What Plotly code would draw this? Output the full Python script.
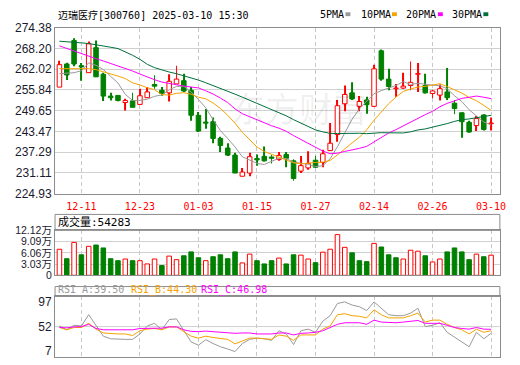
import plotly.graph_objects as go

# ---------------- data ----------------
dates = ["12-06", "12-09", "12-10", "12-11", "12-12", "12-13", "12-16", "12-17", "12-18", "12-19",
         "12-20", "12-23", "12-24", "12-25", "12-26", "12-27", "12-30", "12-31", "01-02", "01-03",
         "01-06", "01-07", "01-08", "01-09", "01-10", "01-13", "01-14", "01-15", "01-16", "01-17",
         "01-20", "01-21", "01-22", "01-23", "01-24", "01-27", "02-05", "02-06", "02-07", "02-10",
         "02-11", "02-12", "02-13", "02-14", "02-17", "02-18", "02-19", "02-20", "02-21", "02-24",
         "02-25", "02-26", "02-27", "02-28", "03-03", "03-04", "03-05", "03-06", "03-07", "03-10"]

opens = [256.70, 263.59, 270.58, 263.11, 261.01, 268.47, 260.53, 254.02, 254.21, 252.11,
         252.59, 251.53, 253.54, 257.47, 255.75, 254.98, 257.66, 258.62, 255.75, 248.28,
         246.25, 246.37, 241.39, 238.52, 236.41, 230.10, 231.05, 235.36, 236.03, 235.84,
         235.07, 236.61, 234.69, 231.63, 232.59, 234.88, 234.21, 237.75, 242.54, 251.73,
         254.98, 250.96, 252.87, 250.96, 267.52, 259.09, 256.22, 256.41, 257.18, 260.53,
         257.18, 254.79, 254.31, 255.27, 251.92, 249.05, 246.18, 245.22, 248.38, 245.79]
highs = [264.55, 263.97, 271.25, 263.88, 270.29, 270.58, 261.01, 254.98, 254.21, 253.26,
         254.98, 256.22, 256.70, 260.24, 256.70, 260.53, 263.11, 260.72, 256.70, 249.24,
         250.19, 247.61, 241.87, 239.95, 237.08, 232.59, 237.08, 236.61, 239.00, 236.41,
         237.37, 237.37, 235.17, 236.12, 237.56, 236.12, 238.04, 246.00, 252.87, 257.18,
         258.14, 254.02, 253.83, 263.40, 267.90, 262.16, 257.66, 261.01, 264.36, 263.88,
         260.72, 255.94, 257.47, 262.44, 252.87, 249.05, 246.65, 248.09, 248.57, 247.61]
lows = [256.70, 258.81, 262.92, 258.62, 261.01, 259.76, 252.59, 252.68, 252.49, 249.72,
        250.67, 251.53, 253.54, 256.22, 254.12, 252.40, 257.66, 255.27, 246.65, 243.30,
        244.26, 239.95, 237.37, 236.12, 231.05, 230.10, 230.10, 233.26, 234.50, 233.93,
        234.69, 232.78, 228.76, 231.05, 232.01, 232.59, 232.78, 237.75, 240.43, 249.52,
        252.87, 249.52, 248.76, 250.77, 258.62, 255.75, 253.83, 256.22, 255.75, 255.27,
        254.79, 253.35, 252.68, 252.87, 248.57, 241.58, 243.11, 243.59, 243.78, 243.78]
closes = [263.40, 260.34, 263.59, 262.73, 269.62, 259.76, 254.02, 253.54, 252.68, 252.68,
          250.67, 254.12, 255.27, 256.99, 254.79, 258.43, 259.09, 255.55, 248.28, 243.59,
          245.95, 241.39, 239.29, 236.41, 231.05, 231.34, 235.93, 234.98, 234.69, 235.46,
          236.32, 235.46, 229.43, 233.26, 233.93, 232.78, 236.80, 239.95, 251.15, 254.50,
          253.16, 252.40, 251.44, 262.16, 259.09, 256.89, 256.41, 256.99, 258.14, 260.72,
          254.98, 255.55, 256.22, 253.54, 250.29, 246.37, 243.30, 247.32, 244.07, 245.98]

volumes = [70300, 44800, 88700, 55300, 78200, 81700, 73800, 44800, 39500, 43900,
           39500, 39500, 30700, 43900, 26300, 51800, 42200, 52700, 63200, 47400,
           39500, 50100, 55300, 44800, 63200, 33400, 57100, 39500, 30700, 39500,
           46500, 30700, 55300, 54400, 43900, 34200, 62400, 70300, 109800, 75500,
           60600, 39500, 36900, 86100, 76400, 55300, 47400, 43900, 67600, 65000,
           52700, 36000, 43900, 63200, 73800, 63200, 42200, 57100, 50100, 54283]
# 1 = red (up) volume bar, 0 = green
vol_up = [1, 0, 1, 0, 1, 0, 0, 0, 0, 1,
          0, 1, 1, 1, 0, 1, 1, 0, 0, 0,
          1, 0, 0, 0, 0, 1, 1, 0, 0, 0,
          1, 0, 0, 1, 1, 0, 1, 1, 1, 1,
          0, 0, 0, 1, 0, 0, 0, 1, 1, 1,
          0, 1, 1, 0, 0, 0, 0, 1, 0, 1]

ma5 = [260.7, 260.8, 261.0, 261.6, 263.94, 263.21, 261.94, 259.93, 257.92, 254.54,
       252.72, 252.74, 253.08, 253.95, 254.37, 255.92, 256.91, 256.97, 255.23, 252.99,
       250.52, 246.98, 243.73, 241.36, 238.85, 235.90, 234.80, 233.94, 233.60, 234.48,
       235.48, 235.38, 234.27, 233.99, 233.68, 232.97, 233.24, 235.34, 238.92, 243.04,
       247.11, 250.23, 252.53, 254.73, 255.65, 256.40, 257.20, 258.31, 257.50, 257.83,
       257.45, 257.28, 257.12, 256.20, 254.12, 252.39, 249.94, 248.16, 246.27, 245.41]
ma10 = [262.2, 262.2, 262.2, 262.2, 262.2, 261.9, 261.3, 260.6, 260.0, 259.24,
        257.96, 257.34, 256.51, 255.94, 254.45, 254.32, 254.83, 255.03, 254.59, 253.68,
        253.22, 251.95, 250.35, 248.29, 245.92, 243.21, 240.89, 238.84, 237.48, 236.66,
        235.69, 235.09, 234.11, 233.79, 234.08, 234.22, 234.31, 234.81, 236.45, 238.36,
        240.04, 241.74, 243.94, 246.83, 249.34, 251.75, 253.72, 255.42, 256.12, 256.74,
        256.92, 257.24, 257.72, 256.85, 255.97, 254.92, 253.61, 252.64, 251.24, 249.76]
ma20 = [269.0, 268.2, 267.4, 266.6, 265.8, 265.2, 264.5, 263.8, 263.0, 262.3,
        261.5, 260.6, 259.7, 258.9, 258.2, 257.7, 257.4, 257.0, 256.8, 256.46,
        255.59, 254.64, 253.43, 252.11, 250.19, 248.76, 247.86, 246.93, 246.03, 245.17,
        244.45, 243.52, 242.23, 241.04, 240.00, 238.72, 237.60, 236.82, 236.97, 237.51,
        237.86, 238.41, 239.02, 240.31, 241.71, 242.99, 244.01, 245.11, 246.29, 247.55,
        248.48, 249.49, 250.83, 251.84, 252.66, 253.34, 253.66, 254.03, 253.68, 253.25]
ma30 = [270.4, 270.3, 270.1, 269.9, 269.7, 269.4, 269.0, 268.6, 268.2, 267.3,
        266.2, 265.0, 263.5, 262.5, 261.8, 261.2, 260.7, 260.1, 259.5, 258.8,
        258.0, 257.2, 256.3, 255.5, 254.6, 253.7, 252.8, 251.9, 250.9, 249.86,
        248.96, 248.13, 246.99, 246.01, 244.82, 243.92, 243.34, 242.89, 242.84, 242.90,
        242.98, 242.93, 242.80, 242.97, 243.11, 243.06, 242.97, 243.02, 243.35, 243.92,
        244.22, 244.69, 245.25, 245.82, 246.47, 246.97, 247.21, 247.62, 247.94, 248.29]

rsi_a = [53.2, 46.1, 54.4, 53.2, 73.9, 53.2, 34.3, 29.5, 28.4, 28.4,
         28.4, 38.4, 53.2, 58.0, 46.1, 65.0, 66.2, 44.3, 23.6, 17.7,
         27.8, 20.7, 14.8, 10.6, 5.9, 20.7, 28.4, 30.7, 29.5, 26.6,
         44.3, 38.4, 18.9, 44.3, 47.3, 41.4, 62.1, 72.1, 94.6, 97.6,
         91.7, 88.7, 81.6, 97.6, 85.8, 73.9, 72.1, 72.1, 76.9, 85.8,
         52.0, 54.4, 59.1, 41.4, 32.5, 23.6, 14.8, 41.4, 29.5, 39.50]
rsi_b = [50.3, 46.1, 50.3, 50.3, 58.0, 47.3, 40.2, 39.0, 38.4, 38.4,
         35.5, 44.3, 47.3, 48.5, 46.1, 51.4, 51.4, 42.6, 34.3, 30.7,
         34.3, 31.9, 30.7, 28.4, 20.1, 26.0, 30.7, 30.7, 29.5, 28.4,
         36.6, 34.3, 26.6, 36.6, 36.6, 36.6, 47.3, 53.2, 73.9, 75.7,
         72.1, 71.0, 68.0, 82.8, 73.9, 68.0, 68.0, 68.0, 72.1, 76.9,
         60.3, 63.9, 63.9, 56.2, 50.3, 46.1, 38.4, 47.3, 41.4, 44.30]
rsi_c = [50.3, 49.7, 51.4, 52.0, 56.2, 48.5, 46.1, 46.1, 46.1, 46.1,
         46.1, 48.5, 49.1, 49.7, 49.1, 51.4, 51.4, 46.1, 43.2, 42.6,
         43.7, 42.6, 41.4, 40.8, 39.6, 40.2, 40.2, 38.4, 38.4, 38.4,
         40.2, 40.2, 36.6, 39.6, 40.2, 41.4, 44.3, 50.3, 56.2, 59.1,
         59.1, 59.1, 56.2, 63.9, 60.3, 59.1, 59.1, 60.3, 61.5, 63.3,
         58.0, 58.0, 58.0, 54.4, 50.3, 48.5, 47.3, 50.3, 47.3, 46.98]

price_ticks = [274.38, 268.20, 262.02, 255.84, 249.65, 243.47, 237.29, 231.11, 224.93]
vol_ticks = [0, 30300, 60600, 90900, 121200]
vol_tick_text = ["0", "3.03万", "6.06万", "9.09万", "12.12万"]
rsi_ticks = [7, 52, 97]
date_tick_idx = [3, 11, 19, 27, 35, 43, 51, 59]
title_text = "迈瑞医疗[300760] 2025-03-10 15:30"

# ---------------- layout helpers ----------------
W, H = 520, 365


def fx(v):
    return v / W


def fy(v):
    return 1 - v / H


L, R = 55.7, 505.7
MAIN_TOP, MAIN_BOT = 21.7, 194.0
VOL_HDR, VOL_TOP, VOL_BOT = 215.7, 232.3, 279.0
RSI_HDR, RSI_TOP, RSI_BOT = 290.7, 301.0, 364.0

RED = "#ff0000"
GREEN = "#008000"
C5, C10, C20, C30 = "#999999", "#f5a300", "#ff00ff", "#00703c"
BORDER = "#8c8c8c"
GRID = "#d0d0d0"
VGRID = "#c8c8c8"
LABEL = "#1a1a2e"
MONO = "DejaVu Sans Mono, Noto Sans CJK SC"
SANS = "Liberation Sans, Noto Sans CJK SC"

x = list(range(len(dates)))
is_up = [c > o for o, c in zip(opens, closes)]

fig = go.Figure()

# wicks
fig.add_trace(go.Bar(
    x=x, base=lows, y=[h - l for h, l in zip(highs, lows)], width=0.12,
    marker=dict(color=[RED if u else GREEN for u in is_up], line=dict(width=0)),
    xaxis="x", yaxis="y", hoverinfo="skip"))
# bodies
fig.add_trace(go.Bar(
    x=x, base=[min(o, c) for o, c in zip(opens, closes)],
    y=[max(abs(c - o), 0.12) for o, c in zip(opens, closes)], width=0.62,
    marker=dict(color=["#ffffff" if u else GREEN for u in is_up],
                line=dict(color=[RED if u else GREEN for u in is_up], width=1)),
    xaxis="x", yaxis="y", hoverinfo="skip"))

for vals, col in [(ma5, C5), (ma10, C10), (ma20, C20), (ma30, C30)]:
    fig.add_trace(go.Scatter(x=x, y=vals, mode="lines", line=dict(color=col, width=1),
                             xaxis="x", yaxis="y", hoverinfo="skip"))

# volume
fig.add_trace(go.Bar(
    x=x, y=volumes, width=0.62,
    marker=dict(color=["#ffffff" if u else GREEN for u in vol_up],
                line=dict(color=[RED if u else GREEN for u in vol_up], width=1)),
    xaxis="x2", yaxis="y2", hoverinfo="skip"))

# RSI
for vals, col in [(rsi_a, C5), (rsi_b, C10), (rsi_c, C20)]:
    fig.add_trace(go.Scatter(x=x, y=vals, mode="lines", line=dict(color=col, width=1),
                             xaxis="x3", yaxis="y3", hoverinfo="skip"))

xr = [-0.6, 60.2]
xcommon = dict(domain=[fx(L), fx(R)], range=xr, tickvals=date_tick_idx,
               showgrid=True, gridcolor=VGRID, griddash="4px,3px", gridwidth=1,
               showline=True, mirror=True, linecolor=BORDER, linewidth=1,
               zeroline=False, fixedrange=True)

fig.update_layout(
    width=W, height=H, margin=dict(l=0, r=0, t=0, b=0),
    paper_bgcolor="#ffffff", plot_bgcolor="#ffffff",
    showlegend=False, barmode="overlay",
    xaxis=dict(**xcommon, anchor="y", ticktext=[dates[i] for i in date_tick_idx],
               tickfont=dict(family=MONO, size=10, color=RED),
               ticks="outside", ticklen=3, tickcolor="rgba(0,0,0,0)"),
    xaxis2=dict(**xcommon, anchor="y2", showticklabels=False),
    xaxis3=dict(**xcommon, anchor="y3", showticklabels=False),
    yaxis=dict(domain=[fy(MAIN_BOT), fy(MAIN_TOP)], range=[224.93, 274.38],
               tickvals=price_ticks, ticktext=["%.2f" % v for v in price_ticks],
               tickfont=dict(family=SANS, size=12, color=LABEL),
               showgrid=True, gridcolor=GRID, gridwidth=1,
               showline=True, mirror=True, linecolor=BORDER, linewidth=1,
               zeroline=False, fixedrange=True),
    yaxis2=dict(domain=[fy(VOL_BOT), fy(VOL_TOP)], range=[0, 121200],
                tickvals=vol_ticks, ticktext=vol_tick_text,
                tickfont=dict(family=SANS, size=10.5, color=LABEL),
                showgrid=True, gridcolor=GRID, gridwidth=1,
                showline=True, mirror=True, linecolor=BORDER, linewidth=1,
                zeroline=False, fixedrange=True),
    yaxis3=dict(domain=[fy(RSI_BOT), fy(RSI_TOP)], range=[-4.2, 107.6],
                tickvals=rsi_ticks, ticktext=[str(v) for v in rsi_ticks],
                tickfont=dict(family=SANS, size=12, color=LABEL),
                showgrid=False,
                showline=True, mirror=True, linecolor=BORDER, linewidth=1,
                zeroline=False, fixedrange=True),
)

shapes = [
    # header boxes
    dict(type="rect", xref="paper", yref="paper", x0=fx(L), x1=fx(R), y0=fy(VOL_TOP), y1=fy(VOL_HDR),
         line=dict(color=BORDER, width=1), fillcolor="rgba(0,0,0,0)"),
    dict(type="rect", xref="paper", yref="paper", x0=fx(L), x1=fx(R), y0=fy(RSI_TOP), y1=fy(RSI_HDR),
         line=dict(color=BORDER, width=1), fillcolor="rgba(0,0,0,0)"),
    # RSI mid line
    dict(type="line", xref="x3", yref="y3", x0=xr[0], x1=xr[1], y0=52, y1=52,
         line=dict(color=GRID, width=1), layer="below"),
]
# legend colour marks
for x0, col in [(349.5, C5), (396.5, C10), (443.0, C20), (489.0, C30)]:
    shapes.append(dict(type="rect", xref="paper", yref="paper", x0=fx(x0), x1=fx(x0 + 5),
                       y0=fy(9.5), y1=fy(5.5), line=dict(width=0), fillcolor=col))
fig.update_layout(shapes=shapes)

ann = [
    dict(text=title_text, x=fx(57), y=fy(8), xanchor="left", yanchor="middle",
         font=dict(family=MONO, size=10, color="#000000")),
    dict(text="成交量:%d" % volumes[-1], x=fx(57), y=fy(224), xanchor="left", yanchor="middle",
         font=dict(family=MONO, size=11, color="#000000")),
    dict(text="RSI_A:%.2f" % rsi_a[-1], x=fx(57), y=fy(294.5), xanchor="left", yanchor="middle",
         font=dict(family=MONO, size=10, color=C5)),
    dict(text="RSI_B:%.2f" % rsi_b[-1], x=fx(130), y=fy(294.5), xanchor="left", yanchor="middle",
         font=dict(family=MONO, size=10, color=C10)),
    dict(text="RSI_C:%.2f" % rsi_c[-1], x=fx(201.5), y=fy(294.5), xanchor="left", yanchor="middle",
         font=dict(family=MONO, size=10, color=C20)),
    dict(text="东方财富", x=fx(302), y=fy(104), xanchor="center", yanchor="middle",
         font=dict(family="Noto Sans CJK SC", size=34, color="rgba(0,0,0,0.07)")),
]
for x0, txt in [(321.5, "5PMA"), (363, "10PMA"), (409, "20PMA"), (455, "30PMA")]:
    ann.append(dict(text=txt, x=fx(x0), y=fy(8), xanchor="left", yanchor="middle",
                    font=dict(family=MONO, size=10, color="#000000")))
for a in ann:
    a.update(xref="paper", yref="paper", showarrow=False)
fig.update_layout(annotations=ann)

fig.write_html("out.html")
